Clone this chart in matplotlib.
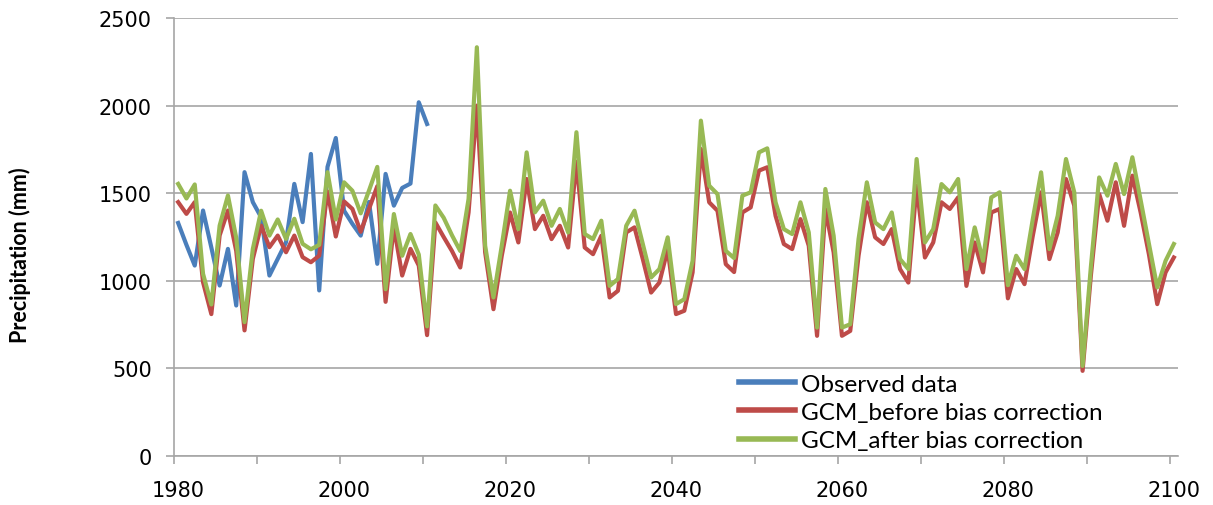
import numpy as np
import matplotlib
matplotlib.use("Agg")
import matplotlib.pyplot as plt

# --- data (annual precipitation, mm) ---
years = list(range(1980, 2101))
obs_years = list(range(1980, 2011))

observed = [1330, 1205, 1087, 1401, 1190, 973, 1182, 859, 1620, 1449,
            1363, 1030, 1125, 1220, 1553, 1335, 1724, 945, 1650, 1815,
            1400, 1325, 1258, 1450, 1097, 1610, 1429, 1530, 1555, 2019,
            1895]

gcm_before = [1449, 1382, 1449, 992, 810, 1259, 1401, 1170, 717, 1125,
              1315, 1192, 1258, 1163, 1258, 1135, 1106, 1144, 1510, 1253,
              1453, 1410, 1280, 1410, 1540, 880, 1310, 1030, 1182, 1087,
              690, 1333, 1250, 1170, 1076, 1390, 2000, 1162, 838, 1143,
              1390, 1219, 1581, 1295, 1371, 1238, 1314, 1190, 1680, 1190,
              1152, 1257, 905, 943, 1276, 1305, 1124, 933, 990, 1181,
              810, 829, 1048, 1752, 1448, 1400, 1095, 1050, 1390, 1419,
              1629, 1648, 1371, 1210, 1181, 1352, 1200, 686, 1410, 1162,
              686, 714, 1143, 1448, 1248, 1210, 1295, 1067, 990, 1543,
              1133, 1219, 1448, 1410, 1476, 971, 1219, 1048, 1390, 1410,
              900, 1067, 981, 1257, 1505, 1124, 1276, 1581, 1429, 486,
              1030, 1495, 1343, 1562, 1314, 1600, 1390, 1150, 867, 1048,
              1133]

gcm_after = [1553, 1470, 1550, 1040, 865, 1315, 1487, 1245, 764, 1182,
             1400, 1258, 1350, 1239, 1354, 1211, 1180, 1205, 1620, 1350,
             1562, 1514, 1385, 1515, 1650, 952, 1381, 1143, 1267, 1150,
             740, 1430, 1360, 1260, 1170, 1467, 2333, 1200, 905, 1200,
             1514, 1295, 1733, 1391, 1457, 1314, 1410, 1276, 1848, 1267,
             1238, 1343, 971, 1010, 1314, 1400, 1210, 1019, 1067, 1248,
             867, 895, 1114, 1914, 1543, 1495, 1171, 1130, 1486, 1505,
             1733, 1756, 1448, 1295, 1267, 1448, 1276, 733, 1524, 1257,
             733, 752, 1238, 1562, 1333, 1295, 1390, 1124, 1067, 1695,
             1219, 1295, 1552, 1505, 1581, 1067, 1305, 1114, 1476, 1505,
             975, 1143, 1067, 1352, 1619, 1181, 1371, 1695, 1505, 514,
             1080, 1590, 1486, 1667, 1495, 1705, 1460, 1210, 962, 1114,
             1210]

labels = ['Observed data', 'GCM_before bias correction', 'GCM_after bias correction']
colors = ['#4A7EBB', '#BE4B48', '#98B954']
year_labels = list(range(1980, 2101, 20))

# Excel-style category axis: one slot per year, points in slot centres
x_all = np.array(years) - years[0] + 0.5
x_obs = np.array(obs_years) - years[0] + 0.5

fig = plt.figure(figsize=(12.13, 5.06), dpi=100)
ax = fig.add_axes([174 / 1213, 49 / 506, 1004 / 1213, 438 / 506])

grid_c = '#A6A6A6'
ax.plot(x_obs, observed, color=colors[0], lw=3.0, label=labels[0], solid_joinstyle='round')
ax.plot(x_all, gcm_before, color=colors[1], lw=3.0, label=labels[1], solid_joinstyle='round')
ax.plot(x_all, gcm_after, color=colors[2], lw=3.0, label=labels[2], solid_joinstyle='round')

ax.set_xlim(0, len(years))
ax.set_ylim(0, 2500)
ax.set_yticks(np.arange(0, 2501, 500))
ax.yaxis.grid(True, color=grid_c, lw=1.2)
ax.set_axisbelow(True)

# tick marks every 10 slots, labels every 20 years
ax.set_xticks(np.arange(0, len(years), 10))
ax.set_xticklabels([])
ax.set_xticks([y - years[0] + 0.5 for y in year_labels], minor=True)
ax.set_xticklabels([str(y) for y in year_labels], minor=True)
ax.tick_params(axis='x', which='major', length=6, color=grid_c, width=1.2, direction='out')
ax.tick_params(axis='x', which='minor', length=0, pad=17)
ax.tick_params(axis='y', length=6, color=grid_c, width=1.2, pad=10)

tick_font = ['Liberation Sans Narrow', 'DejaVu Sans']
for t in ax.get_yticklabels() + ax.get_xticklabels(minor=True):
    t.set_family(tick_font)
    t.set_fontsize(15)

for side in ['top', 'right']:
    ax.spines[side].set_visible(False)
for side in ['left', 'bottom']:
    ax.spines[side].set_color(grid_c)
    ax.spines[side].set_linewidth(1.2)

fig.text(20 / 1213, 251 / 506, 'Precipitation (mm)', rotation=90,
         ha='center', va='center', fontsize=15.5, fontweight='bold', family='Lato')

leg = ax.legend(loc='upper left', bbox_to_anchor=(0.563, 0.188), frameon=False,
                prop={'family': 'Lato', 'size': 17.5}, handlelength=2.3,
                handletextpad=0.25, labelspacing=0.3, borderpad=0, borderaxespad=0)
for h in leg.get_lines():
    h.set_linewidth(4)

fig.savefig('out.png', dpi=100)
